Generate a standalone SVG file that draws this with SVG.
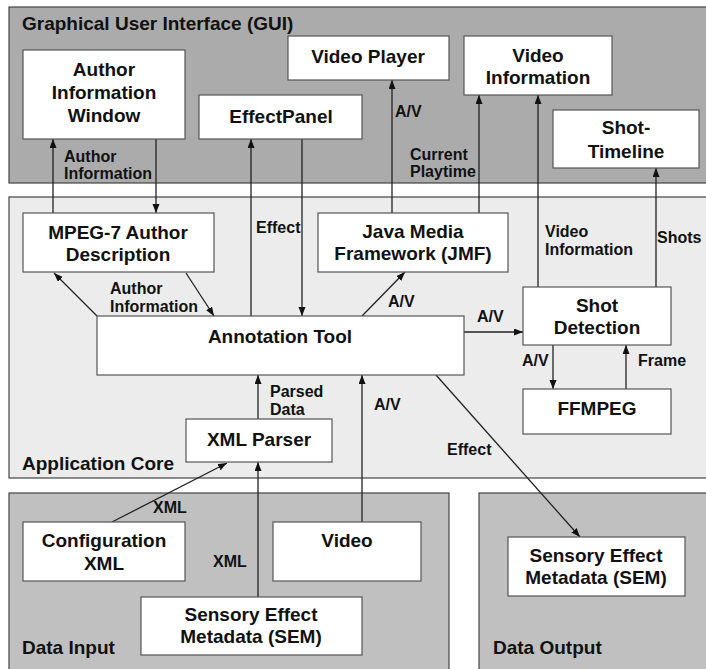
<svg xmlns="http://www.w3.org/2000/svg" width="706" height="669" viewBox="0 0 706 669">
<defs>
<marker id="arr" markerUnits="userSpaceOnUse" markerWidth="10" markerHeight="8" refX="9" refY="3.5" orient="auto">
<path d="M0,0 L9,3.5 L0,7 z" fill="#111"/>
</marker>
<style>
.region{stroke:#444;stroke-width:1.2}
.node rect{fill:#fff;stroke:#555;stroke-width:1.2}
.t{font-family:"Liberation Sans",Arial,sans-serif;font-weight:bold;font-size:19px;fill:#111;text-anchor:middle}
.rl{font-family:"Liberation Sans",Arial,sans-serif;font-weight:bold;font-size:19px;fill:#111}
.lbl{font-family:"Liberation Sans",Arial,sans-serif;font-weight:bold;font-size:16px;fill:#111}
#connectors path{fill:none;stroke:#222;stroke-width:1.3;marker-end:url(#arr)}
</style>
</defs>
<rect width="706" height="669" fill="#fff"/>
<g id="regions">
<rect class="region" x="9" y="7" width="710" height="176" fill="#ababab"/>
<rect class="region" x="9" y="197" width="710" height="281" fill="#ececec"/>
<rect class="region" x="9" y="493" width="440" height="190" fill="#c0c0c0"/>
<rect class="region" x="479" y="493" width="240" height="190" fill="#c0c0c0"/>
<text class="rl" x="22" y="30">Graphical User Interface (GUI)</text>
<text class="rl" x="22" y="470">Application Core</text>
<text class="rl" x="22" y="654">Data Input</text>
<text class="rl" x="493" y="654">Data Output</text>
</g>
<g id="connectors">
<path d="M53,213 L53,139"/>
<path d="M156,139 L156,213"/>
<path d="M251,316 L251,139"/>
<path d="M302,139 L302,316"/>
<path d="M392,213 L392,80"/>
<path d="M479,213 L479,95"/>
<path d="M538,287 L538,95"/>
<path d="M656,287 L656,168"/>
<path d="M97,316 L54,273"/>
<path d="M186,273 L214,316"/>
<path d="M362,316 L405,272"/>
<path d="M464,332 L523,332"/>
<path d="M553,345 L553,389"/>
<path d="M626,389 L626,345"/>
<path d="M258,419 L258,375"/>
<path d="M362,522 L362,375"/>
<path d="M436,375 L580,537"/>
<path d="M112,522 L227,463"/>
<path d="M258,597 L258,462"/>
</g>
<g id="labels">
<text class="lbl" x="64" y="162">Author</text>
<text class="lbl" x="64" y="179">Information</text>
<text class="lbl" x="256" y="233">Effect</text>
<text class="lbl" x="395" y="117">A/V</text>
<text class="lbl" x="410" y="160">Current</text>
<text class="lbl" x="410" y="177">Playtime</text>
<text class="lbl" x="545" y="237">Video</text>
<text class="lbl" x="545" y="255">Information</text>
<text class="lbl" x="657" y="243">Shots</text>
<text class="lbl" x="110" y="294">Author</text>
<text class="lbl" x="110" y="312">Information</text>
<text class="lbl" x="388" y="307">A/V</text>
<text class="lbl" x="477" y="322">A/V</text>
<text class="lbl" x="522" y="366">A/V</text>
<text class="lbl" x="638" y="366">Frame</text>
<text class="lbl" x="270" y="397">Parsed</text>
<text class="lbl" x="270" y="415">Data</text>
<text class="lbl" x="374" y="410">A/V</text>
<text class="lbl" x="447" y="455">Effect</text>
<text class="lbl" x="153" y="513">XML</text>
<text class="lbl" x="213" y="567">XML</text>
</g>
<g id="author-info-window" class="node"><rect x="23" y="50" width="162" height="89"/><text class="t" x="104" y="76">Author</text><text class="t" x="104" y="99">Information</text><text class="t" x="104" y="122">Window</text></g>
<g id="effect-panel" class="node"><rect x="199" y="95" width="163" height="44"/><text class="t" x="281" y="123">EffectPanel</text></g>
<g id="video-player" class="node"><rect x="288" y="36" width="161" height="44"/><text class="t" x="368" y="63">Video Player</text></g>
<g id="video-information" class="node"><rect x="464" y="36" width="148" height="59"/><text class="t" x="538" y="62">Video</text><text class="t" x="538" y="84">Information</text></g>
<g id="shot-timeline" class="node"><rect x="553" y="110" width="146" height="58"/><text class="t" x="626" y="134">Shot-</text><text class="t" x="626" y="158">Timeline</text></g>
<g id="mpeg7-author" class="node"><rect x="23" y="213" width="191" height="59"/><text class="t" x="118" y="239">MPEG-7 Author</text><text class="t" x="118" y="261">Description</text></g>
<g id="jmf" class="node"><rect x="318" y="213" width="190" height="59"/><text class="t" x="413" y="238">Java Media</text><text class="t" x="413" y="260">Framework (JMF)</text></g>
<g id="annotation-tool" class="node"><rect x="97" y="316" width="367" height="59"/><text class="t" x="280" y="343">Annotation Tool</text></g>
<g id="shot-detection" class="node"><rect x="523" y="287" width="148" height="58"/><text class="t" x="597" y="312">Shot</text><text class="t" x="597" y="334">Detection</text></g>
<g id="ffmpeg" class="node"><rect x="523" y="389" width="148" height="45"/><text class="t" x="597" y="415">FFMPEG</text></g>
<g id="xml-parser" class="node"><rect x="186" y="419" width="146" height="43"/><text class="t" x="259" y="446">XML Parser</text></g>
<g id="configuration-xml" class="node"><rect x="23" y="522" width="162" height="59"/><text class="t" x="104" y="547">Configuration</text><text class="t" x="104" y="570">XML</text></g>
<g id="video" class="node"><rect x="273" y="522" width="148" height="59"/><text class="t" x="347" y="547">Video</text></g>
<g id="sem-input" class="node"><rect x="141" y="597" width="221" height="58"/><text class="t" x="251" y="621">Sensory Effect</text><text class="t" x="251" y="643">Metadata (SEM)</text></g>
<g id="sem-output" class="node"><rect x="508" y="537" width="177" height="59"/><text class="t" x="596" y="562">Sensory Effect</text><text class="t" x="596" y="584">Metadata (SEM)</text></g>
</svg>
